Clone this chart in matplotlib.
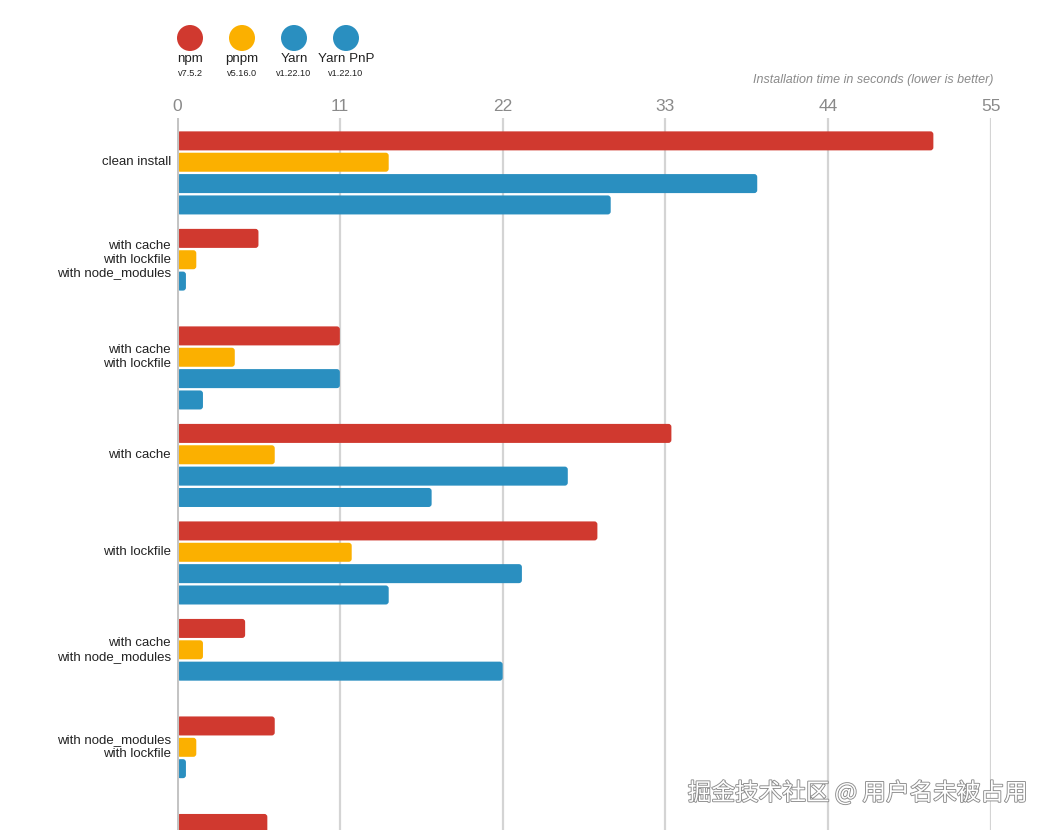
import numpy as np
import matplotlib
matplotlib.use("Agg")
import matplotlib.pyplot as plt
from matplotlib.patches import FancyBboxPatch, Circle
import matplotlib.patheffects as pe

plt.rcParams["font.family"] = ["Liberation Sans", "DejaVu Sans"]

scenarios = [
    "clean install",
    "with cache\nwith lockfile\nwith node_modules",
    "with cache\nwith lockfile",
    "with cache",
    "with lockfile",
    "with cache\nwith node_modules",
    "with node_modules\nwith lockfile",
    "with node_modules",
]
tools = ["npm", "pnpm", "Yarn", "Yarn PnP"]
versions = ["v7.5.2", "v5.16.0", "v1.22.10", "v1.22.10"]
colors = ["#D0392F", "#FBB000", "#2A8FC0", "#2A8FC0"]

# seconds, nan = no bar / not visible
npm_times = [51.1, 5.5, 11.0, 33.4, 28.4, 4.6, 6.6, 6.1]
pnpm_times = [14.3, 1.3, 3.9, 6.6, 11.8, 1.75, 1.3, np.nan]
yarn_times = [39.2, 0.6, 11.0, 26.4, 23.3, 22.0, 0.6, np.nan]
pnp_times = [29.3, np.nan, 1.75, 17.2, 14.3, np.nan, np.nan, np.nan]
series = [npm_times, pnpm_times, yarn_times, pnp_times]

xticks = [0, 11, 22, 33, 44, 55]

fig = plt.figure(figsize=(10.52, 8.30), dpi=100)
ax = fig.add_axes([0.1683, 0.0, 0.7738, 0.858])

step = 0.219
bar_h = 0.195
groups = np.arange(len(scenarios))

for j, vals in enumerate(series):
    bars = ax.barh(groups + j * step, vals, height=bar_h, color=colors[j])
    for b in bars:
        x0, y0, w, h = b.get_x(), b.get_y(), b.get_width(), b.get_height()
        b.remove()
        if not np.isfinite(w) or w <= 0:
            continue
        ax.add_patch(FancyBboxPatch((x0, y0), w, h,
                                    boxstyle="round,pad=0,rounding_size=0.2",
                                    mutation_aspect=0.152,
                                    facecolor=colors[j], edgecolor="none", zorder=3))

ax.set_xlim(0, 55)
ax.set_ylim(7.067, -0.236)
ax.set_xticks(xticks)
ax.xaxis.tick_top()
ax.tick_params(axis="x", length=0, pad=3, labelsize=12.5, labelcolor="#8a8a8a")
ax.set_yticks([])
# labels next to each group (the last group is cut off by the image edge)
for i in groups[:-1]:
    ax.text(-0.4, i + step, scenarios[i], ha="right", va="center",
            fontsize=9.5, color="#222222", linespacing=1.2)
for s in ax.spines.values():
    s.set_visible(False)
ax.grid(axis="x", color="#d4d4d4", linewidth=1.6, zorder=0)
ax.set_axisbelow(True)
ax.axvline(0, color="#c4c4c4", linewidth=2.2, zorder=4)

fig.text(0.944, 0.904, "Installation time in seconds (lower is better)",
         ha="right", va="center", fontsize=9, style="italic", color="#8a8a8a")

# legend with circles on top
for j, (name, ver) in enumerate(zip(tools, versions)):
    cx = 1.90 + j * 0.52
    fig.add_artist(Circle((cx, 7.92), 0.13, transform=fig.dpi_scale_trans,
                          facecolor=colors[j], edgecolor="none"))
    fig.text(cx / 10.52, (830 - 59) / 830, name, ha="center", va="center",
             fontsize=9.6, color="#222222")
    fig.text(cx / 10.52, (830 - 73) / 830, ver, ha="center", va="center",
             fontsize=6.6, color="#222222")

fig.text(0.977, 0.045, "掘金技术社区 @ 用户名未被占用", ha="right", va="center",
         fontsize=17, color="white", family=["Noto Sans CJK SC", "DejaVu Sans"],
         path_effects=[pe.Stroke(linewidth=1.3, foreground="#8c8c8c"), pe.Normal()])

fig.savefig("out.png", dpi=100)
